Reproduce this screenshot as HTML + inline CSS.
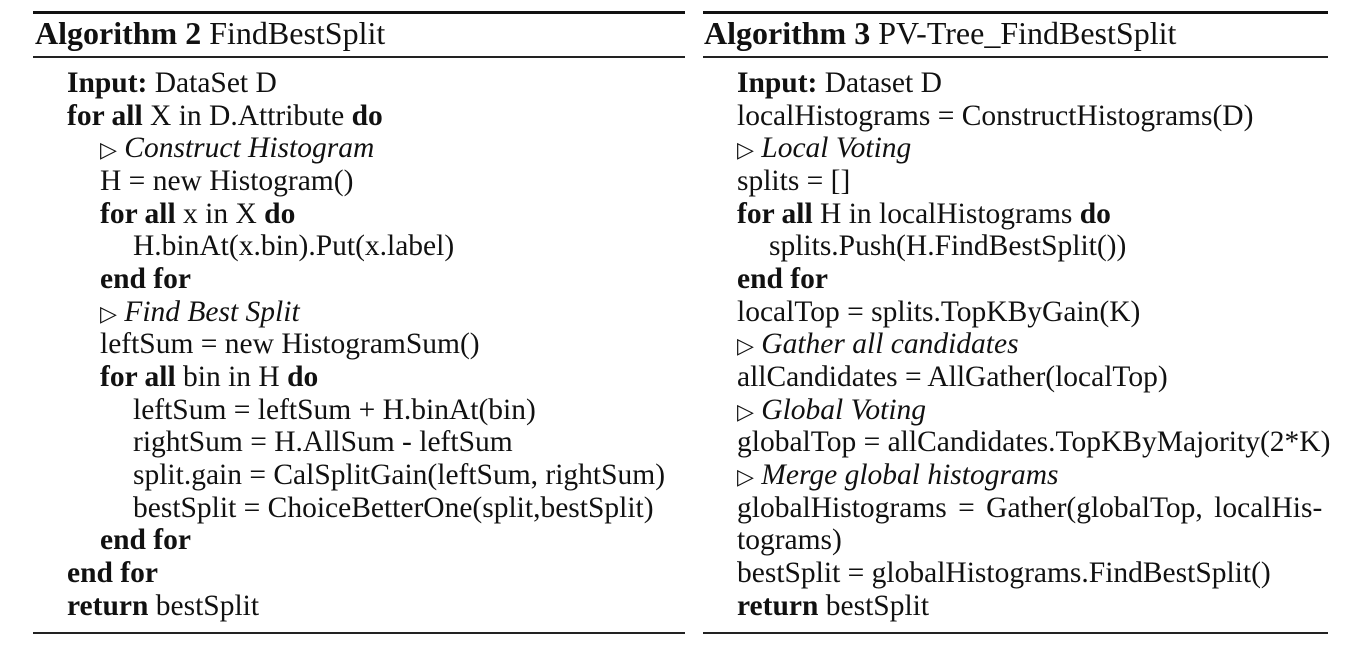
<!DOCTYPE html>
<html><head><meta charset="utf-8"><style>
body{margin:0;width:1348px;height:649px;background:#fff;overflow:hidden;position:relative;font-family:"Liberation Serif",serif;color:#111;}
.r{position:absolute;height:2px;background:#222;}
.t{position:absolute;height:3px;background:#111;}
.l{position:absolute;font-size:29.5px;line-height:32px;white-space:nowrap;}
.h{position:absolute;font-size:32px;line-height:32px;white-space:nowrap;}
.tri{font-size:22px;}
b{font-weight:bold;}
i{font-style:italic;}
</style></head><body>
<div class="t" style="left:33px;top:11px;width:652px"></div>
<div class="r" style="left:33px;top:56px;width:652px"></div>
<div class="r" style="left:33px;top:632px;width:652px"></div>
<div class="t" style="left:703px;top:11px;width:625px"></div>
<div class="r" style="left:703px;top:56px;width:625px"></div>
<div class="r" style="left:703px;top:632px;width:625px"></div>

<div class="h" style="left:35px;top:17px"><b>Algorithm 2</b> FindBestSplit</div>
<div class="h" style="left:704px;top:17px"><b>Algorithm 3</b> PV-Tree_FindBestSplit</div>

<div>
<div class="l" style="left:67px;top:67px"><b>Input:</b> DataSet D</div>
<div class="l" style="left:67px;top:100px"><b>for all</b> X in D.Attribute <b>do</b></div>
<div class="l" style="left:100px;top:132px"><span class="tri">▷</span> <i>Construct Histogram</i></div>
<div class="l" style="left:100px;top:165px">H = new Histogram()</div>
<div class="l" style="left:100px;top:198px"><b>for all</b> x in X <b>do</b></div>
<div class="l" style="left:133px;top:230px">H.binAt(x.bin).Put(x.label)</div>
<div class="l" style="left:100px;top:263px"><b>end for</b></div>
<div class="l" style="left:100px;top:296px"><span class="tri">▷</span> <i>Find Best Split</i></div>
<div class="l" style="left:100px;top:328px">leftSum = new HistogramSum()</div>
<div class="l" style="left:100px;top:361px"><b>for all</b> bin in H <b>do</b></div>
<div class="l" style="left:133px;top:394px">leftSum = leftSum + H.binAt(bin)</div>
<div class="l" style="left:133px;top:426px">rightSum = H.AllSum - leftSum</div>
<div class="l" style="left:133px;top:459px">split.gain = CalSplitGain(leftSum, rightSum)</div>
<div class="l" style="left:133px;top:492px">bestSplit = ChoiceBetterOne(split,bestSplit)</div>
<div class="l" style="left:100px;top:524px"><b>end for</b></div>
<div class="l" style="left:67px;top:557px"><b>end for</b></div>
<div class="l" style="left:67px;top:590px"><b>return</b> bestSplit</div>
</div>

<div>
<div class="l" style="left:737px;top:67px"><b>Input:</b> Dataset D</div>
<div class="l" style="left:737px;top:100px">localHistograms = ConstructHistograms(D)</div>
<div class="l" style="left:737px;top:132px"><span class="tri">▷</span> <i>Local Voting</i></div>
<div class="l" style="left:737px;top:165px">splits = []</div>
<div class="l" style="left:737px;top:198px"><b>for all</b> H in localHistograms <b>do</b></div>
<div class="l" style="left:769px;top:230px">splits.Push(H.FindBestSplit())</div>
<div class="l" style="left:737px;top:263px"><b>end for</b></div>
<div class="l" style="left:737px;top:296px">localTop = splits.TopKByGain(K)</div>
<div class="l" style="left:737px;top:328px"><span class="tri">▷</span> <i>Gather all candidates</i></div>
<div class="l" style="left:737px;top:361px">allCandidates = AllGather(localTop)</div>
<div class="l" style="left:737px;top:394px"><span class="tri">▷</span> <i>Global Voting</i></div>
<div class="l" style="left:737px;top:426px">globalTop = allCandidates.TopKByMajority(2*K)</div>
<div class="l" style="left:737px;top:459px"><span class="tri">▷</span> <i>Merge global histograms</i></div>
<div class="l" style="left:737px;top:492px;word-spacing:4px">globalHistograms = Gather(globalTop, localHis-</div>
<div class="l" style="left:737px;top:524px">tograms)</div>
<div class="l" style="left:737px;top:557px">bestSplit = globalHistograms.FindBestSplit()</div>
<div class="l" style="left:737px;top:590px"><b>return</b> bestSplit</div>
</div>
</body></html>
